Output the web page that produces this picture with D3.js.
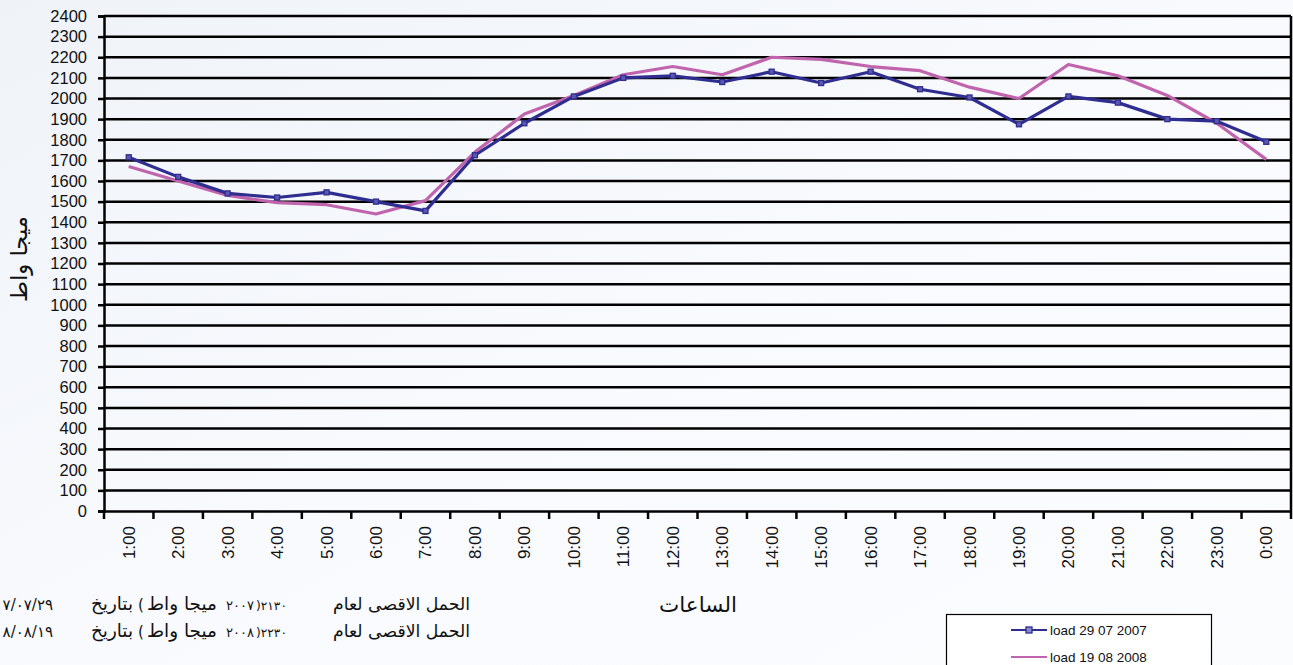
<!DOCTYPE html>
<html>
<head>
<meta charset="utf-8">
<script src="https://cdn.jsdelivr.net/npm/d3@7"></script>
<style>
  html, body { margin: 0; padding: 0; background: #f7f9fc; }
  svg { display: block; }
</style>
</head>
<body>
<svg id="chart" width="1293" height="665"></svg>
<script>
const hours = ["1:00","2:00","3:00","4:00","5:00","6:00","7:00","8:00","9:00","10:00","11:00","12:00",
               "13:00","14:00","15:00","16:00","17:00","18:00","19:00","20:00","21:00","22:00","23:00","0:00"];
const load2007 = [1715,1620,1540,1520,1545,1500,1455,1725,1880,2010,2100,2110,
                  2080,2130,2075,2130,2045,2005,1875,2010,1980,1900,1890,1790];
const load2008 = [1670,1600,1530,1495,1485,1440,1505,1740,1925,2015,2115,2155,
                  2115,2200,2190,2155,2135,2055,2000,2165,2110,2015,1880,1705];
const yTicks = d3.range(0, 2401, 100);
const seriesNames = ["load 29 07 2007", "load 19 08 2008"];
const yTitle = "ميجا واط";
const xTitle = "الساعات";
const noteLines = [
  {label: "الحمل الاقصى لعام", peak: "٢١٣٠", year: "٢٠٠٧", unit: "ميجا واط", dateWord: "بتاريخ", date: "٢٠٠٧/٠٧/٢٩"},
  {label: "الحمل الاقصى لعام", peak: "٢٢٣٠", year: "٢٠٠٨", unit: "ميجا واط", dateWord: "بتاريخ", date: "٢٠٠٨/٠٨/١٩"}
];

(function () {
const svg = d3.select("#chart");
const W = 1293, H = 665;
const mLeft = 104, mRight = 1291, mTop = 16, mBottom = 511;

// background
const defs = svg.append("defs");
const grad = defs.append("linearGradient").attr("id","bg").attr("x1","0").attr("y1","0").attr("x2","1").attr("y2","1");
grad.append("stop").attr("offset","0").attr("stop-color","#eff3f8");
grad.append("stop").attr("offset","0.5").attr("stop-color","#f8fafd");
grad.append("stop").attr("offset","1").attr("stop-color","#fbfcfe");
svg.append("rect").attr("width", W).attr("height", H).attr("fill", "url(#bg)");

const x = d3.scalePoint().domain(hours).range([mLeft, mRight]).padding(0.5);
const xBand = d3.scaleBand().domain(hours).range([mLeft, mRight]);
const y = d3.scaleLinear().domain([0, 2400]).range([mBottom, mTop]);

// gridlines
svg.append("g").selectAll("line").data(yTicks.filter(d => d > 0)).join("line")
  .attr("x1", mLeft).attr("x2", mRight)
  .attr("y1", d => y(d)).attr("y2", d => y(d))
  .attr("stroke", "#000").attr("stroke-width", 2.5);

// y axis
const yAxis = svg.append("g").attr("transform", `translate(${mLeft},0)`)
  .call(d3.axisLeft(y).tickValues(yTicks).tickSize(6).tickPadding(11).tickFormat(d3.format("d")));
yAxis.select(".domain").attr("stroke", "#000").attr("stroke-width", 2.5);
yAxis.selectAll(".tick line").attr("stroke", "#000").attr("stroke-width", 2.5);
yAxis.selectAll("text").attr("font-family", "Liberation Sans, Arial, sans-serif")
  .attr("font-size", 16.5).attr("fill", "#111");

// right border
svg.append("line").attr("x1", mRight).attr("x2", mRight).attr("y1", mTop).attr("y2", mBottom)
  .attr("stroke", "#000").attr("stroke-width", 2.5);

// x axis
const xAxis = svg.append("g").attr("transform", `translate(0,${mBottom})`)
  .call(d3.axisBottom(xBand).tickSize(0).tickFormat(""));
xAxis.select(".domain").attr("stroke", "#000").attr("stroke-width", 2.5);
const xTickPos = hours.map(h => xBand(h)).concat([mRight]);
svg.append("g").selectAll("line").data(xTickPos).join("line")
  .attr("x1", d => d).attr("x2", d => d).attr("y1", mBottom).attr("y2", mBottom + 8)
  .attr("stroke", "#000").attr("stroke-width", 2.5);
svg.append("g").selectAll("text").data(hours).join("text")
  .attr("transform", d => `translate(${x(d) + 6},526) rotate(-90)`)
  .attr("text-anchor", "end")
  .attr("font-family", "Liberation Sans, Arial, sans-serif")
  .attr("font-size", 17).attr("fill", "#111")
  .text(d => d);

// lines
const line = d3.line().x((d, i) => x(hours[i])).y(d => y(d));
svg.append("path").datum(load2008).attr("d", line)
  .attr("fill", "none").attr("stroke", "#c064ae").attr("stroke-width", 3.2).attr("stroke-linejoin", "round");
svg.append("path").datum(load2007).attr("d", line)
  .attr("fill", "none").attr("stroke", "#2f2d8f").attr("stroke-width", 3.2).attr("stroke-linejoin", "round");
svg.append("g").selectAll("rect").data(load2007).join("rect")
  .attr("x", (d, i) => x(hours[i]) - 2.5).attr("y", d => y(d) - 2.5)
  .attr("width", 5).attr("height", 5)
  .attr("fill", "#5a58b0").attr("stroke", "#2f2d8f").attr("stroke-width", 1.3);

// helper: fit text to a target pixel width
function fit(sel, width, base) {
  const len = sel.node().getComputedTextLength();
  if (len > 0) sel.attr("font-size", Math.min(base * 1.6, base * width / len));
  return sel;
}

// axis titles
const yt = svg.append("text").attr("transform", "translate(27,259) rotate(-90)")
  .attr("text-anchor", "middle").attr("font-family", "DejaVu Sans, sans-serif")
  .attr("font-size", 20).attr("fill", "#111").text(yTitle);
fit(yt, 86, 20);
const xt = svg.append("text").attr("x", 698).attr("y", 612)
  .attr("text-anchor", "middle").attr("font-family", "DejaVu Sans, sans-serif")
  .attr("font-size", 20).attr("fill", "#111").text(xTitle);
fit(xt, 78, 20);

// notes
const noteY = [610, 637];
const nf = "DejaVu Sans, sans-serif", ns = 15;
noteLines.forEach((n, i) => {
  const g = svg.append("g").attr("font-family", nf).attr("font-size", ns).attr("fill", "#111");
  const add = (txt, xx, anchor, w) => {
    const t = g.append("text").attr("x", xx).attr("y", noteY[i]).attr("text-anchor", anchor).text(txt);
    if (w) fit(t, w, ns);
    return t;
  };
  add(n.label, 470, "end", 137);
  add(")" + n.peak, 256, "start", 31);
  add(n.year, 254, "end", 28);
  add(n.unit, 217, "end", 70);
  add("(", 138, "start", null);
  add(n.dateWord, 133, "end", 42);
  add(n.date, 53, "end", null);
});

// legend
const lg = svg.append("g");
lg.append("rect").attr("x", 946.5).attr("y", 614.5).attr("width", 265).attr("height", 70)
  .attr("fill", "#fff").attr("stroke", "#000").attr("stroke-width", 1.2);
const legY = [630, 657];
const legColors = ["#2f2d8f", "#c064ae"];
seriesNames.forEach((s, i) => {
  lg.append("line").attr("x1", 1011).attr("x2", 1047).attr("y1", legY[i]).attr("y2", legY[i])
    .attr("stroke", legColors[i]).attr("stroke-width", 2);
  if (i === 0) {
    lg.append("rect").attr("x", 1026).attr("y", legY[i] - 3).attr("width", 6).attr("height", 6)
      .attr("fill", "#8a88cc").attr("stroke", legColors[i]).attr("stroke-width", 1.3);
  }
  lg.append("text").attr("x", 1050).attr("y", legY[i] + 5)
    .attr("font-family", "Liberation Sans, Arial, sans-serif").attr("font-size", 13.5).attr("fill", "#111")
    .text(s);
});
})();
</script>
</body>
</html>
